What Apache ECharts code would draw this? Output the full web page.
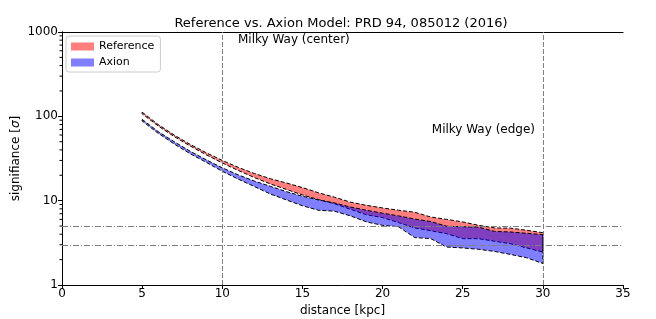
<!DOCTYPE html>
<html>
<head>
<meta charset="utf-8">
<script src="https://cdn.jsdelivr.net/npm/echarts@6/dist/echarts.min.js"></script>
<style>html,body{margin:0;padding:0;background:#fff}#c{width:656px;height:319px}</style>
</head>
<body>
<div id="c"></div>
<script>
const distance = [5,6,7,8,9,10,11,12,13,14,15,16,17,18,19,20,21,22,23,24,25,26,27,28,29,30];
const referenceUpper = [112,80,60,46.5,37,30,24.8,21,18.2,16.2,14.3,12.4,11.0,9.6,8.8,8.2,7.7,7.3,6.4,6.0,5.6,5.1,4.75,4.72,4.45,4.17];
const referenceLower = [107,77,57.5,44.5,35,28,22.8,18.8,15.8,13.6,11.7,10.3,9.2,7.9,6.8,6.3,5.5,4.75,4.4,4.06,3.55,3.54,3.3,3.08,2.75,2.46];
const axionUpper = [92,66,50,38.5,30.5,24.5,20.2,17.1,14.8,12.8,11.3,10.2,9.4,8.4,7.7,7.1,6.6,6.05,5.66,4.98,4.9,4.85,4.32,4.25,4.1,3.95];
const axionLower = [88,63,47,36,28.5,22.3,18,14.7,12.0,10.2,8.7,7.7,7.5,6.6,5.6,5.1,4.9,3.65,3.55,2.82,2.75,2.65,2.5,2.3,2.1,1.8];
const xTicks = [0,5,10,15,20,25,30,35];
const yMajorTicks = [1,10,100,1000];
const yMinorTicks = [2,3,4,5,6,7,8,9,20,30,40,50,60,70,80,90,200,300,400,500,600,700,800,900];
const verticalMarks = [10,30];
const horizontalMarks = [5,3];
const seriesNames = ['Reference','Axion'];
const titleText = 'Reference vs. Axion Model: PRD 94, 085012 (2016)';

const FONT = 'DejaVu Sans';
const chart = echarts.init(document.getElementById('c'), null, {renderer:'canvas'});

function band(name, upper, lower, fill) {
  return {
    type: 'custom', name: name, coordinateSystem: 'cartesian2d', clip: true,
    itemStyle: {color: fill},
    data: distance.map((d,i)=>[d, upper[i], lower[i]]),
    encode: {x: 0, y: [1,2]},
    renderItem: function(params, api) {
      if (params.dataIndex !== 0) return null;
      const pts = [];
      for (let i = 0; i < distance.length; i++) pts.push(api.coord([distance[i], upper[i]]));
      for (let i = distance.length - 1; i >= 0; i--) pts.push(api.coord([distance[i], lower[i]]));
      return {type:'polygon', shape:{points:pts},
        style:{fill: fill, stroke:'#000', lineWidth:1, lineDash:[4,2]}};
    }
  };
}

const option = {
  animation: false,
  title: {text: titleText, left: 336, top: 12, textAlign: 'center',
    textStyle: {fontFamily: FONT, fontSize: 13, fontWeight: 'normal', color: '#000'}},
  grid: {left: 62, right: 33, top: 32, bottom: 34, containLabel: false, outerBoundsMode: 'none'},
  legend: {
    data: seriesNames, orient: 'vertical', left: 66, top: 36,
    itemWidth: 23, itemHeight: 8, itemGap: 5, icon: 'rect',
    padding: [5,6,4,5], borderColor: '#ccc', borderWidth: 1, borderRadius: 3,
    backgroundColor: 'rgba(255,255,255,0.8)',
    textStyle: {fontFamily: FONT, fontSize: 11, color: '#000'}
  },
  xAxis: [{
    type: 'value', min: 0, max: 35, interval: 5,
    name: 'distance [kpc]', nameLocation: 'middle', nameGap: 20,
    nameTextStyle: {fontFamily: FONT, fontSize: 12, color: '#000'},
    axisLine: {show: true, lineStyle: {color: '#000', width: 1}},
    axisTick: {show: true, length: 4, lineStyle: {color: '#000'}},
    axisLabel: {fontFamily: FONT, fontSize: 12, color: '#000', margin: 3,
      formatter: v => xTicks.includes(v) ? String(v) : ''},
    splitLine: {show: false}
  },{
    type: 'value', min: 0, max: 35, position: 'top',
    axisLine: {show: true, onZero: false, lineStyle: {color: '#000', width: 1}},
    axisTick: {show: false}, axisLabel: {show: false}, splitLine: {show: false}
  }],
  yAxis: [{
    type: 'log', logBase: 10, min: 1, max: 1000,
    name: '{a|signifiance [}{b|σ}{a|]}', nameLocation: 'middle', nameGap: 40, nameRotate: 90,
    nameMoveOverlap: false,
    nameTextStyle: {rich: {
      a: {fontFamily: FONT, fontSize: 12, color: '#000'},
      b: {fontFamily: FONT, fontSize: 12, color: '#000', fontStyle: 'italic'}}},
    axisLine: {show: true, lineStyle: {color: '#000', width: 1}},
    axisTick: {show: true, length: 4, lineStyle: {color: '#000'}},
    axisLabel: {fontFamily: FONT, fontSize: 12, color: '#000', margin: 4,
      formatter: v => String(Math.round(v))},
    splitLine: {show: false}
  },{
    type: 'log', logBase: 10, min: 1, max: 1000, position: 'right',
    axisLine: {show: true, lineStyle: {color: '#000', width: 1}},
    axisTick: {show: false}, axisLabel: {show: false}, splitLine: {show: false}
  }],
  graphic: [
    {type: 'text', left: 238, top: 34, style: {text: 'Milky Way (center)', fontFamily: FONT, fontSize: 12, fill: '#000'}},
    {type: 'text', right: 121, top: 124, style: {text: 'Milky Way (edge)', fontFamily: FONT, fontSize: 12, fill: '#000'}}
  ],
  series: [
    band(seriesNames[0], referenceUpper, referenceLower, 'rgba(255,0,0,0.5)'),
    band(seriesNames[1], axionUpper, axionLower, 'rgba(0,0,255,0.5)'),
    {
      type: 'line', name: 'marks', data: [], silent: true, symbol: 'none',
      markLine: {
        silent: true, symbol: 'none', label: {show: false}, animation: false,
        data: verticalMarks.map(v => ({xAxis: v, lineStyle: {color: '#808080', width: 1, type: [5,2]}}))
          .concat(horizontalMarks.map(v => ({yAxis: v, lineStyle: {color: '#808080', width: 1, type: [6,2,1,2]}})))
      }
    },
    {
      type: 'custom', name: 'minorTicks', coordinateSystem: 'cartesian2d', clip: false, silent: true,
      data: yMinorTicks.map(v => [0, v]),
      renderItem: function(params, api) {
        const p = api.coord([0, api.value(1)]);
        return {type: 'line', shape: {x1: p[0] - 2.5, y1: p[1], x2: p[0], y2: p[1]},
          style: {stroke: '#000', lineWidth: 1}};
      }
    }
  ]
};
chart.setOption(option);
</script>
</body>
</html>
